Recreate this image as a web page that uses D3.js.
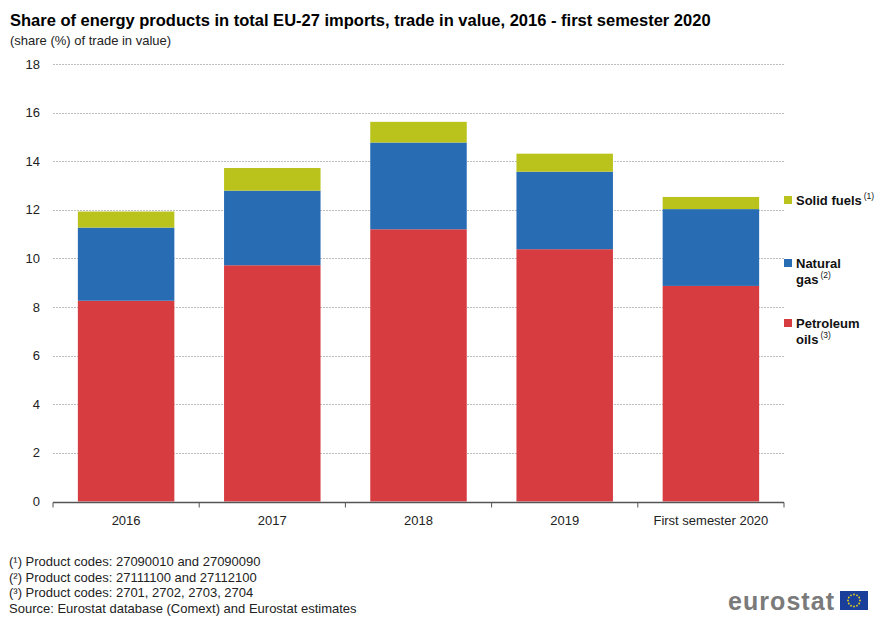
<!DOCTYPE html>
<html><head><meta charset="utf-8">
<script src="https://cdn.jsdelivr.net/npm/d3@7"></script>
<style>body{margin:0;background:#fff;font-family:"Liberation Sans",Arial,sans-serif}</style>
</head><body><svg id="c" width="887" height="617"></svg>
<script>
const categories = ["2016","2017","2018","2019","First semester 2020"];
const petroleumOils = [8.26, 9.72, 11.20, 10.38, 8.87];
const naturalGas   = [3.01, 3.07, 3.57, 3.19, 3.16];
const solidFuels   = [0.66, 0.93, 0.85, 0.74, 0.50];
const yTicks = [0,2,4,6,8,10,12,14,16,18];
const seriesNames = ["Petroleum oils","Natural gas","Solid fuels"];
const colors = ["#d73c41","#286cb4","#b9c31b"];

const svg = d3.select("#c");
const F = "'Liberation Sans',Arial,sans-serif";
const x = d3.scaleBand().domain(categories).range([53,784]).paddingInner(0.34).paddingOuter(0.17);
const y = d3.scaleLinear().domain([0,18]).range([501.5,64]);

svg.append("text").attr("x",10).attr("y",26).attr("font-family",F).attr("font-weight","bold").attr("font-size",16.5).attr("fill","#000")
  .text("Share of energy products in total EU-27 imports, trade in value, 2016 - first semester 2020");
svg.append("text").attr("x",10).attr("y",45).attr("font-family",F).attr("font-size",13).attr("fill","#222")
  .text("(share (%) of trade in value)");

// grid
svg.append("g").selectAll("line").data(yTicks.filter(d=>d>0)).join("line")
  .attr("x1",53).attr("x2",784).attr("y1",d=>Math.round(y(d))+0.5).attr("y2",d=>Math.round(y(d))+0.5)
  .attr("stroke","#bdbdbd").attr("stroke-dasharray","2,1").attr("stroke-width",1);
svg.append("g").selectAll("text").data(yTicks).join("text")
  .attr("x",40).attr("y",d=>y(d)+4.5).attr("text-anchor","end").attr("font-family",F).attr("font-size",13).attr("fill","#222").text(d=>d);

// stacked bars
const rows = categories.map((c,i)=>({cat:c,"Petroleum oils":petroleumOils[i],"Natural gas":naturalGas[i],"Solid fuels":solidFuels[i]}));
const stack = d3.stack().keys(seriesNames)(rows);
svg.append("g").selectAll("g").data(stack).join("g").attr("fill",(d,i)=>colors[i])
  .selectAll("rect").data(d=>d).join("rect")
  .attr("x",d=>x(d.data.cat)).attr("width",x.bandwidth())
  .attr("y",d=>y(d[1])).attr("height",d=>y(d[0])-y(d[1]));

// x axis
const ax = svg.append("g").attr("transform","translate(0,502.5)");
ax.append("line").attr("x1",53).attr("x2",784).attr("stroke","#555").attr("stroke-width",1.5);
const bounds = [53].concat(categories.map(c=>x(c)+x.bandwidth()+x.step()*x.paddingInner()/2));
bounds[bounds.length-1]=784;
ax.selectAll("line.t").data(bounds).join("line").attr("class","t")
  .attr("x1",d=>d).attr("x2",d=>d).attr("y1",0).attr("y2",5).attr("stroke","#555");
ax.selectAll("text").data(categories).join("text")
  .attr("x",d=>x(d)+x.bandwidth()/2).attr("y",22).attr("text-anchor","middle")
  .attr("font-family",F).attr("font-size",13).attr("fill","#222").text(d=>d);

// legend
const leg = [
  {i:2, lines:["Solid fuels"], sup:"(1)", y:200},
  {i:1, lines:["Natural","gas"], sup:"(2)", y:263},
  {i:0, lines:["Petroleum","oils"], sup:"(3)", y:323}
];
leg.forEach(l=>{
  svg.append("rect").attr("x",784).attr("y",l.y-4).attr("width",8).attr("height",8).attr("fill",colors[l.i]);
  l.lines.forEach((t,k)=>{
    const tx = svg.append("text").attr("x",796).attr("y",l.y+5+k*16).attr("font-family",F).attr("font-weight","bold").attr("font-size",13).attr("fill","#111").text(t);
    if(k===l.lines.length-1){
      tx.append("tspan").attr("dx",2).attr("dy",-6).attr("font-size",8.5).attr("font-weight","normal").text(l.sup);
    }
  });
});

// footnotes
const notes = ["(\u00b9) Product codes: 27090010 and 27090090","(\u00b2) Product codes: 27111100 and 27112100","(\u00b3) Product codes: 2701, 2702, 2703, 2704","Source: Eurostat database (Comext) and Eurostat estimates"];
svg.append("g").selectAll("text").data(notes).join("text")
  .attr("x",9).attr("y",(d,i)=>566+i*15.7).attr("font-family",F).attr("font-size",13).attr("fill","#222").text(d=>d);

// logo
svg.append("text").attr("x",728).attr("y",610).attr("font-family",F).attr("font-weight","bold").attr("font-size",25).attr("fill","#7a7a7a").attr("textLength",106).text("eurostat");
svg.append("rect").attr("x",840).attr("y",591).attr("width",28).attr("height",19).attr("fill","#1a3f9a");
d3.range(12).forEach(k=>{const a=k*Math.PI/6;svg.append("circle").attr("cx",854+6*Math.cos(a)).attr("cy",600.5+6*Math.sin(a)).attr("r",0.9).attr("fill","#e8d419");});
</script></body></html>
